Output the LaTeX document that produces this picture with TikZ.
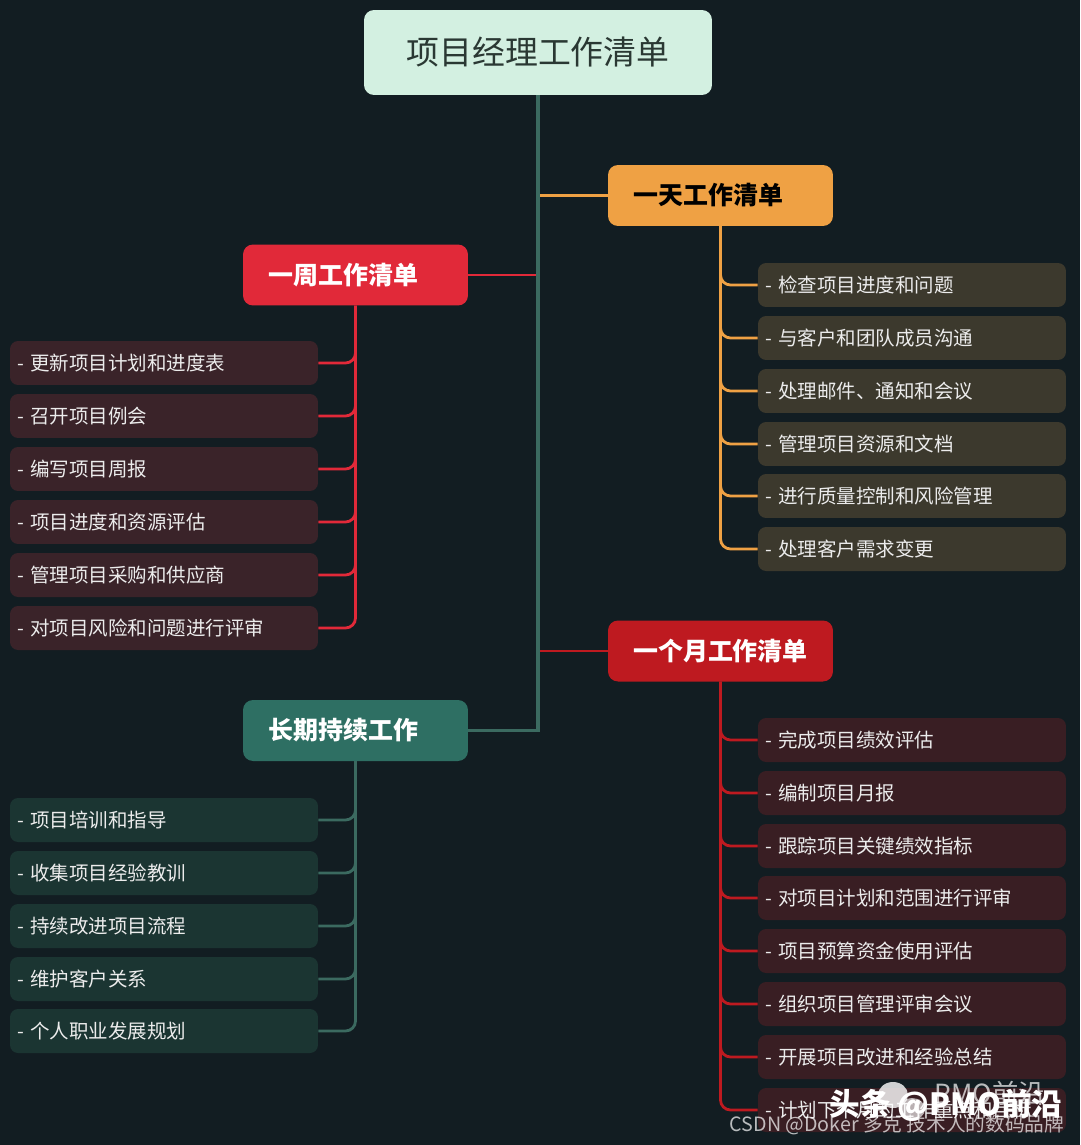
\documentclass[tikz,border=0pt]{standalone}
\usepackage{fontspec}
\setmainfont{Noto Sans CJK SC}
\usetikzlibrary{positioning}
\usepackage{xcolor}

\definecolor{bgcol}{HTML}{121D22}
\definecolor{titlecol}{HTML}{D3F0E1}
\definecolor{titletext}{HTML}{2A3833}
\definecolor{daycol}{HTML}{EFA144}
\definecolor{weekcol}{HTML}{E12939}
\definecolor{monthcol}{HTML}{BE1A20}
\definecolor{longcol}{HTML}{2E6F63}
\definecolor{trunkcol}{HTML}{3B6A60}
\definecolor{dayitem}{HTML}{3C392D}
\definecolor{weekitem}{HTML}{3A2329}
\definecolor{monthitem}{HTML}{391E23}
\definecolor{longitem}{HTML}{1B3532}
\definecolor{itemtext}{HTML}{ECECEC}

\begin{document}
\begin{tikzpicture}[x=0.02cm, y=-0.02cm,
    every node/.style={inner sep=0pt},
    topic/.style={rectangle, rounded corners=0.2cm, minimum width=4.5cm, minimum height=1.22cm, font=\fontsize{14.2}{16}\selectfont\bfseries},
    item/.style={rectangle, rounded corners=0.16cm, minimum height=0.88cm, text width=5.88cm, inner xsep=0.14cm, align=left, text=itemtext, font=\fontsize{11.1}{13}\selectfont},
    branch/.style={line width=1.6pt},
    twig/.style={line width=1.6pt, rounded corners=0.2cm}]
    % Tło
    \fill[bgcol] (0,0) rectangle (1080,1145);

    % Węzły główne
    \node[rectangle, rounded corners=0.2cm, fill=titlecol, minimum width=6.96cm, minimum height=1.7cm, text=titletext, font=\fontsize{18.7}{21}\selectfont] (title) at (538, 52.5) {项目经理工作清单};
    \node[topic, fill=daycol, text=black] (day) at (720.5, 195.5) {一天工作清单\kern0.48cm};
    \node[topic, fill=weekcol, text=white] (week) at (355.5, 275) {一周工作清单\kern0.48cm};
    \node[topic, fill=monthcol, text=white] (month) at (720.5, 651) {一个月工作清单};
    \node[topic, fill=longcol, text=white] (long) at (355.5, 730.5) {长期持续工作\kern0.48cm};

    % Jeden dzień
    \node[item, fill=dayitem] (day1) at (912, 285) {- 检查项目进度和问题};
    \node[item, fill=dayitem] (day2) at (912, 338) {- 与客户和团队成员沟通};
    \node[item, fill=dayitem] (day3) at (912, 391) {- 处理邮件、通知和会议};
    \node[item, fill=dayitem] (day4) at (912, 444) {- 管理项目资源和文档};
    \node[item, fill=dayitem] (day5) at (912, 496) {- 进行质量控制和风险管理};
    \node[item, fill=dayitem] (day6) at (912, 549) {- 处理客户需求变更};

    % Tydzień
    \node[item, fill=weekitem] (week1) at (164, 363) {- 更新项目计划和进度表};
    \node[item, fill=weekitem] (week2) at (164, 416) {- 召开项目例会};
    \node[item, fill=weekitem] (week3) at (164, 469) {- 编写项目周报};
    \node[item, fill=weekitem] (week4) at (164, 522) {- 项目进度和资源评估};
    \node[item, fill=weekitem] (week5) at (164, 575) {- 管理项目采购和供应商};
    \node[item, fill=weekitem] (week6) at (164, 628) {- 对项目风险和问题进行评审};

    % Miesiąc
    \node[item, fill=monthitem] (month1) at (912, 740) {- 完成项目绩效评估};
    \node[item, fill=monthitem] (month2) at (912, 793) {- 编制项目月报};
    \node[item, fill=monthitem] (month3) at (912, 846) {- 跟踪项目关键绩效指标};
    \node[item, fill=monthitem] (month4) at (912, 898) {- 对项目计划和范围进行评审};
    \node[item, fill=monthitem] (month5) at (912, 951) {- 项目预算资金使用评估};
    \node[item, fill=monthitem] (month6) at (912, 1004) {- 组织项目管理评审会议};
    \node[item, fill=monthitem] (month7) at (912, 1057) {- 开展项目改进和经验总结};
    \node[item, fill=monthitem] (month8) at (912, 1110) {- 计划下个月的工作重点和目标};

    % Długoterminowe
    \node[item, fill=longitem] (long1) at (164, 820) {- 项目培训和指导};
    \node[item, fill=longitem] (long2) at (164, 873) {- 收集项目经验教训};
    \node[item, fill=longitem] (long3) at (164, 926) {- 持续改进项目流程};
    \node[item, fill=longitem] (long4) at (164, 979) {- 维护客户关系};
    \node[item, fill=longitem] (long5) at (164, 1031) {- 个人职业发展规划};

    % Krawędzie
    \draw[branch, daycol] (title.south) |- (day.west);
    \draw[branch, weekcol] (title.south) |- (week.east);
    \draw[branch, monthcol] (title.south) |- (month.west);
    \draw[branch, trunkcol, line width=2.2pt] (title.south) |- (long.east);

    \draw[twig, daycol] (day.south) |- (day1.west);
    \draw[twig, daycol] (day.south) |- (day2.west);
    \draw[twig, daycol] (day.south) |- (day3.west);
    \draw[twig, daycol] (day.south) |- (day4.west);
    \draw[twig, daycol] (day.south) |- (day5.west);
    \draw[twig, daycol] (day.south) |- (day6.west);

    \draw[twig, weekcol] (week.south) |- (week1.east);
    \draw[twig, weekcol] (week.south) |- (week2.east);
    \draw[twig, weekcol] (week.south) |- (week3.east);
    \draw[twig, weekcol] (week.south) |- (week4.east);
    \draw[twig, weekcol] (week.south) |- (week5.east);
    \draw[twig, weekcol] (week.south) |- (week6.east);

    \draw[twig, monthcol] (month.south) |- (month1.west);
    \draw[twig, monthcol] (month.south) |- (month2.west);
    \draw[twig, monthcol] (month.south) |- (month3.west);
    \draw[twig, monthcol] (month.south) |- (month4.west);
    \draw[twig, monthcol] (month.south) |- (month5.west);
    \draw[twig, monthcol] (month.south) |- (month6.west);
    \draw[twig, monthcol] (month.south) |- (month7.west);
    \draw[twig, monthcol] (month.south) |- (month8.west);

    \draw[twig, trunkcol] (long.south) |- (long1.east);
    \draw[twig, trunkcol] (long.south) |- (long2.east);
    \draw[twig, trunkcol] (long.south) |- (long3.east);
    \draw[twig, trunkcol] (long.south) |- (long4.east);
    \draw[twig, trunkcol] (long.south) |- (long5.east);

    % Znak wodny
    \fill[white, opacity=0.8] (893, 1095) ellipse (0.3cm and 0.26cm);
    \fill[white, opacity=0.65] (912, 1109) ellipse (0.26cm and 0.22cm);
    \node[text=white, opacity=0.7, font=\fontsize{15}{18}\selectfont] (pmo) at (990, 1093) {PMO前沿};
    \node[text=white, font=\fontsize{17.4}{20}\selectfont\bfseries] (mark) at (946, 1105) {头条 @PMO前沿};
    \node[text=white, opacity=0.7, font=\fontsize{11.2}{13}\selectfont] (csdn) at (897, 1125) {CSDN @Doker 多克 技术人的数码品牌};
\end{tikzpicture}
\end{document}
